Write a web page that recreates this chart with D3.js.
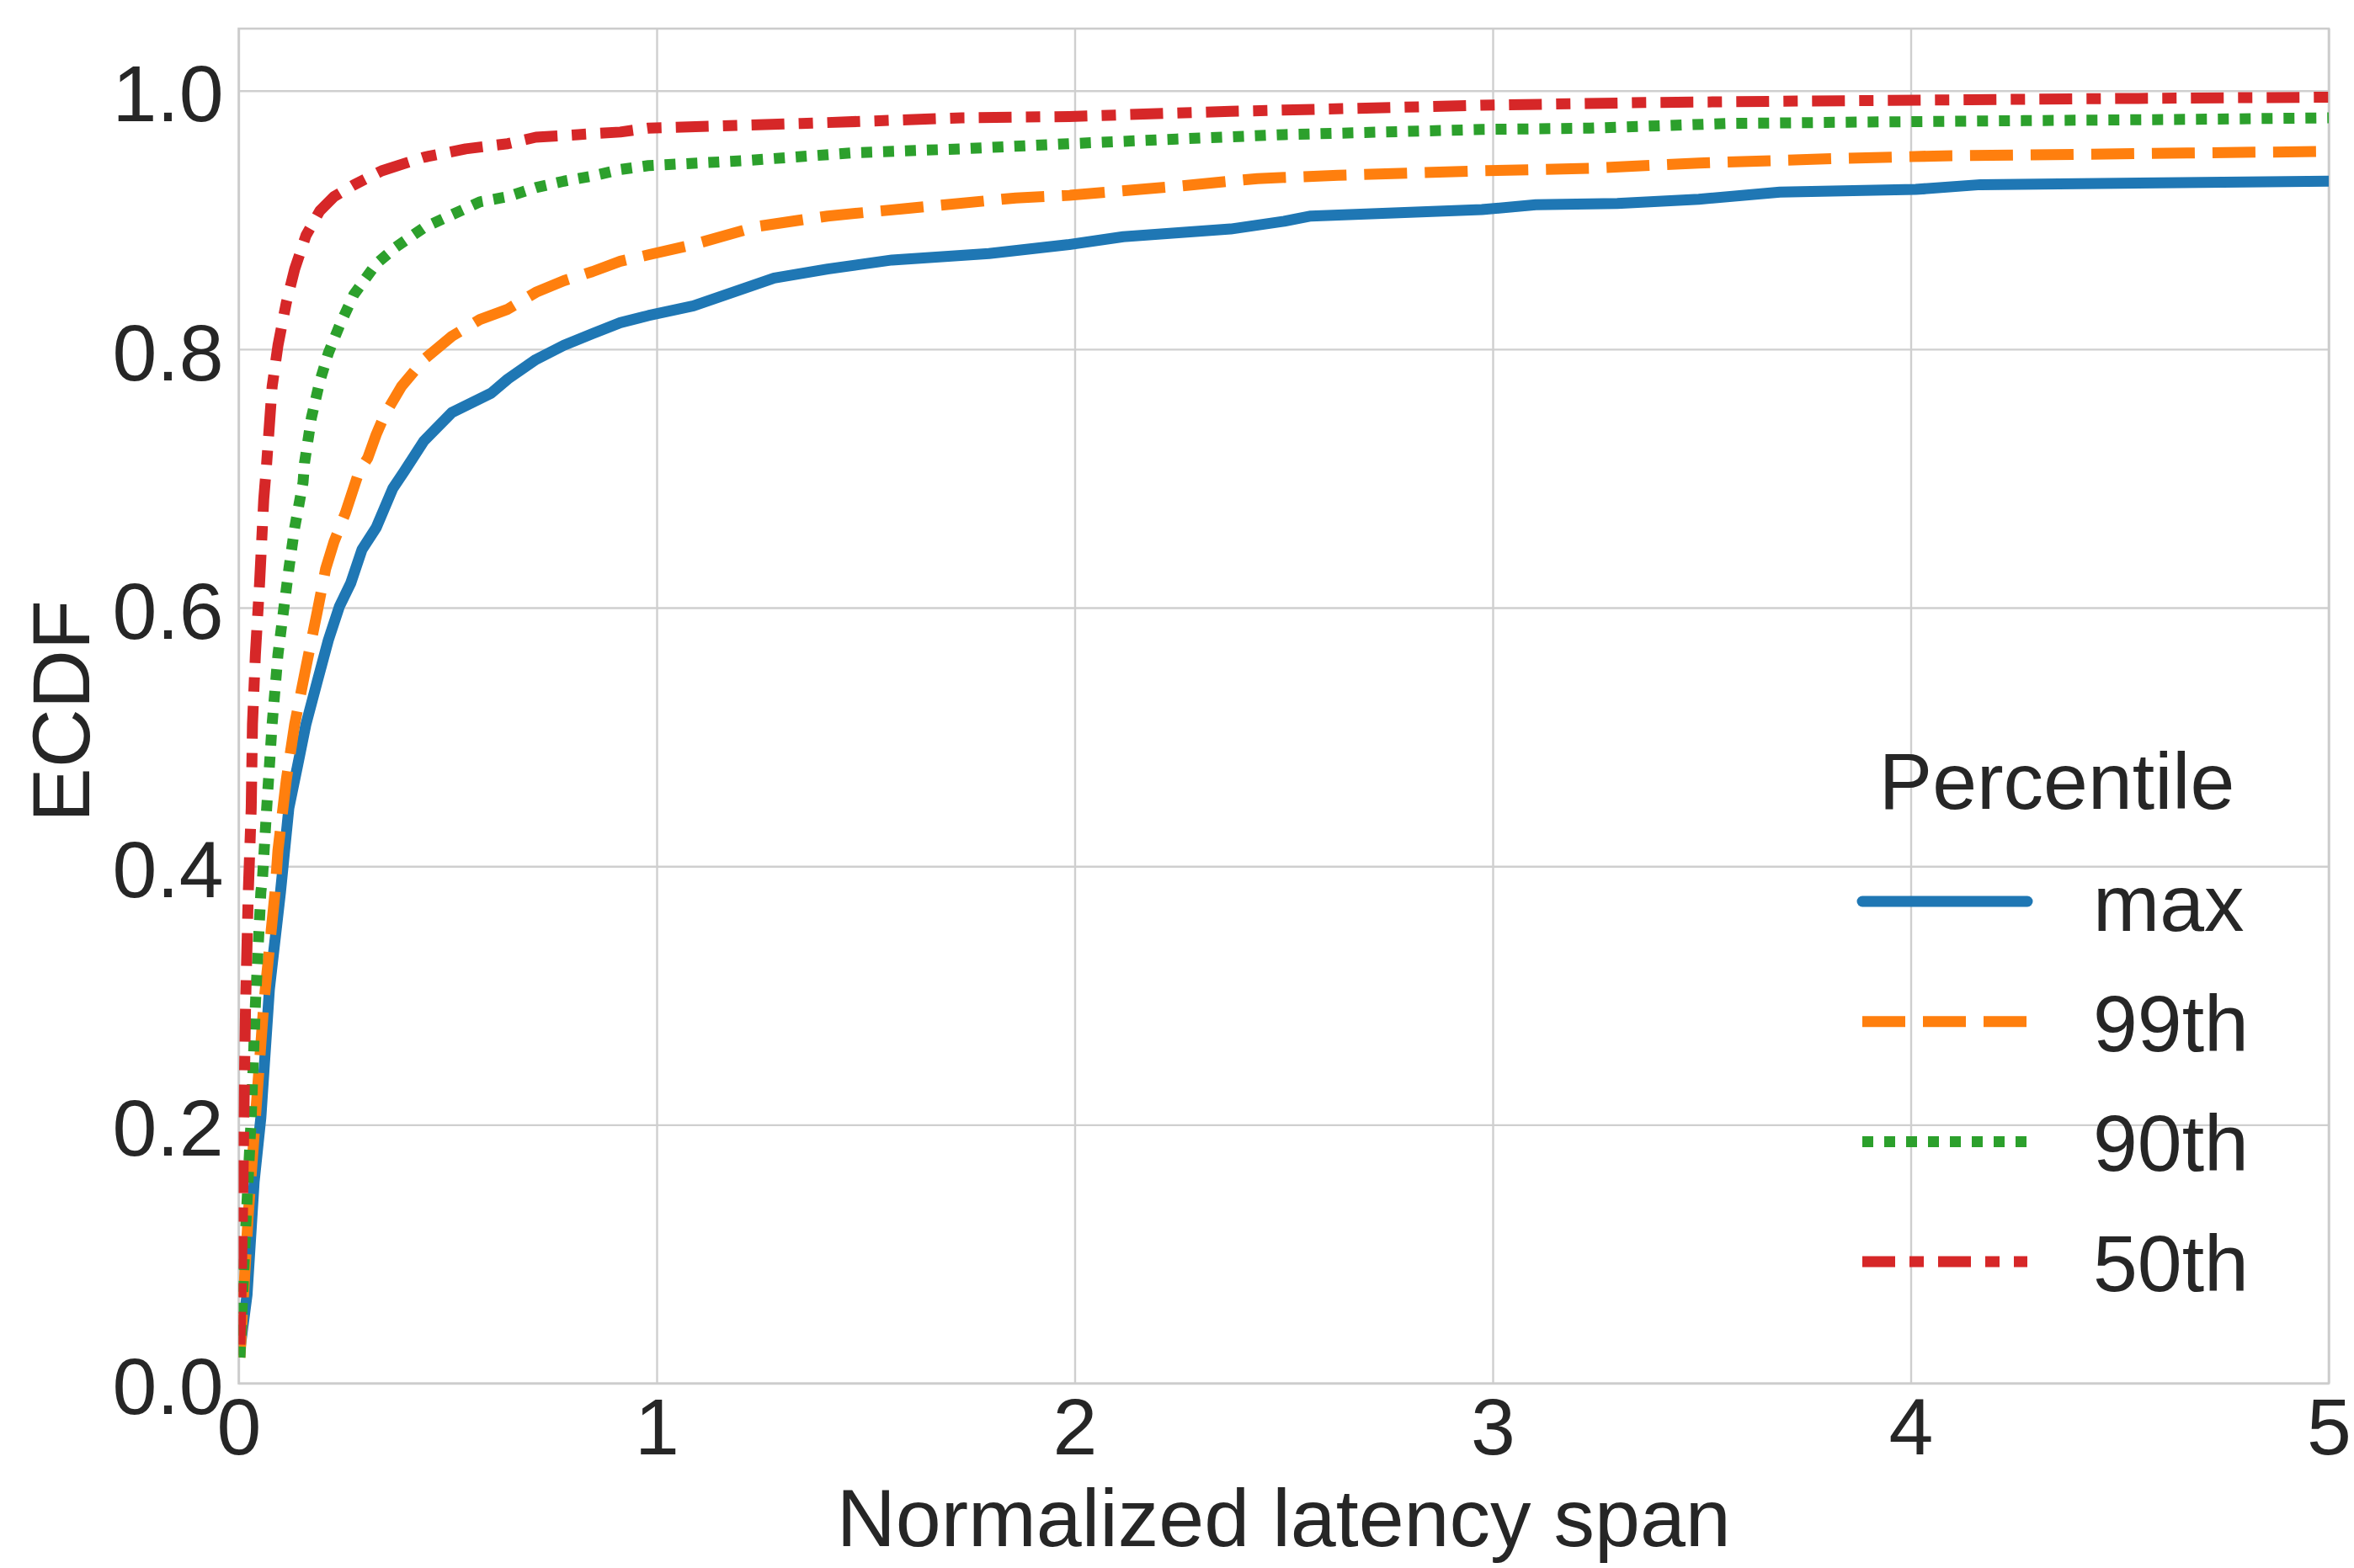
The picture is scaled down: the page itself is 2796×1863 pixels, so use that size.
<!DOCTYPE html>
<html>
<head>
    <meta charset="utf-8">
    <style>
        body { margin: 0; background: #fff; }
        text { font-family: "Liberation Sans", Arial, sans-serif; fill: #262626; }
    </style>
</head>
<body>
    <script src="https://d3js.org/d3.v7.min.js"></script>
    <script>
        // ECDF points, [latency span, ecdf]
        const maxPts = [[0.003,0.026],[0.02,0.0685],[0.037,0.156],[0.053,0.2055],[0.0735,0.305],[0.1,0.38],[0.12,0.445],[0.141,0.478],[0.161,0.51],[0.188,0.543],[0.2145,0.575],[0.241,0.601],[0.268,0.619],[0.295,0.645],[0.329,0.662],[0.369,0.6925],[0.396,0.7055],[0.443,0.729],[0.51,0.751],[0.604,0.766],[0.644,0.777],[0.711,0.792],[0.778,0.803],[0.846,0.812],[0.913,0.8205],[0.98,0.826],[1.088,0.8335],[1.281,0.855],[1.409,0.862],[1.563,0.869],[1.795,0.874],[1.987,0.881],[2.116,0.887],[2.373,0.893],[2.501,0.899],[2.565,0.903],[2.974,0.908],[3.103,0.9117],[3.298,0.9127],[3.493,0.916],[3.687,0.9215],[4.012,0.9236],[4.167,0.9273],[4.401,0.928],[5.0,0.930]];
        const p99Pts = [[0.003,0.02],[0.023,0.131],[0.04,0.2055],[0.06,0.293],[0.087,0.38],[0.094,0.4125],[0.114,0.467],[0.134,0.51],[0.161,0.554],[0.188,0.597],[0.208,0.63],[0.228,0.651],[0.255,0.673],[0.288,0.7055],[0.309,0.716],[0.329,0.734],[0.349,0.749],[0.389,0.771],[0.443,0.792],[0.51,0.81],[0.577,0.823],[0.644,0.831],[0.711,0.844],[0.778,0.853],[0.846,0.86],[0.913,0.868],[0.98,0.873],[1.088,0.881],[1.242,0.895],[1.409,0.903],[1.602,0.909],[1.859,0.917],[1.987,0.919],[2.244,0.926],[2.437,0.932],[2.63,0.9345],[2.974,0.938],[3.233,0.94],[3.493,0.944],[3.817,0.9475],[4.077,0.9496],[4.401,0.9507],[4.661,0.9518],[5.0,0.953]];
        const p90Pts = [[0.003,0.02],[0.0165,0.118],[0.03,0.2055],[0.04,0.293],[0.053,0.38],[0.057,0.391],[0.067,0.445],[0.08,0.51],[0.094,0.564],[0.107,0.597],[0.12,0.63],[0.134,0.662],[0.154,0.697],[0.1575,0.712],[0.174,0.747],[0.194,0.775],[0.2145,0.797],[0.241,0.818],[0.275,0.842],[0.329,0.866],[0.376,0.879],[0.443,0.894],[0.51,0.904],[0.577,0.914],[0.644,0.918],[0.711,0.925],[0.778,0.93],[0.846,0.934],[0.913,0.939],[0.98,0.942],[1.217,0.946],[1.474,0.952],[1.73,0.955],[1.987,0.959],[2.244,0.9626],[2.501,0.966],[2.974,0.97],[3.233,0.971],[3.557,0.9746],[3.881,0.9757],[4.27,0.9768],[4.661,0.9778],[5.0,0.979]];
        const p50Pts = [[0.003,0.03],[0.0064,0.081],[0.0097,0.143],[0.013,0.218],[0.0165,0.293],[0.023,0.38],[0.03,0.445],[0.033,0.51],[0.04,0.564],[0.05,0.619],[0.06,0.684],[0.067,0.712],[0.08,0.771],[0.094,0.803],[0.114,0.836],[0.134,0.862],[0.161,0.888],[0.194,0.907],[0.228,0.918],[0.275,0.927],[0.342,0.938],[0.443,0.9485],[0.543,0.955],[0.644,0.959],[0.711,0.964],[0.812,0.966],[0.913,0.968],[0.98,0.971],[1.345,0.9746],[1.73,0.979],[1.987,0.98],[2.373,0.984],[2.974,0.9887],[3.363,0.9908],[3.752,0.992],[4.141,0.993],[4.53,0.994],[5.0,0.995]];

        const seriesNames = ["max", "99th", "90th", "50th"];
        const xTicks = [0, 1, 2, 3, 4, 5];
        const yTicks = [0, 0.2, 0.4, 0.6, 0.8, 1.0];

        const colors = ["#1f77b4", "#ff7f0e", "#2ca02c", "#d62728"];
        const dashes = [null, "51,21", "13,13", "39,17,17,17"];

        const W = 2796, H = 1863;
        const margin = {top: 34, right: 30, bottom: 219.4, left: 283.5};
        const width = W - margin.left - margin.right;
        const height = H - margin.top - margin.bottom;
        const fs = 95;

        const svg = d3.select("body").append("svg")
            .attr("width", W).attr("height", H);
        const g = svg.append("g").attr("transform", `translate(${margin.left},${margin.top})`);

        const x = d3.scaleLinear().domain([0, 5]).range([0, width]);
        const y = d3.scaleLinear().domain([0, 1.048]).range([height, 0]);

        // grid
        g.append("g").attr("class", "grid")
            .attr("transform", `translate(0,${height})`)
            .call(d3.axisBottom(x).tickValues(xTicks).tickSize(-height).tickFormat(""))
        g.append("g").attr("class", "grid")
            .call(d3.axisLeft(y).tickValues(yTicks).tickSize(-width).tickFormat(""))
        g.selectAll(".grid .domain").remove();
        g.selectAll(".grid line").attr("stroke", "#cfcfcf").attr("stroke-width", 2.4);

        // frame
        g.append("rect")
            .attr("width", width).attr("height", height)
            .attr("fill", "none").attr("stroke", "#cccccc").attr("stroke-width", 2.6);

        // tick labels
        const xa = g.append("g")
            .attr("transform", `translate(0,${height})`)
            .call(d3.axisBottom(x).tickValues(xTicks).tickSize(0).tickPadding(17).tickFormat(d3.format("d")));
        const ya = g.append("g")
            .call(d3.axisLeft(y).tickValues(yTicks).tickSize(0).tickPadding(18).tickFormat(d3.format(".1f")));
        [xa, ya].forEach(a => {
            a.select(".domain").remove();
            a.selectAll("text").attr("font-size", fs).attr("font-family", null).attr("fill", "#262626");
        });
        ya.selectAll("text").attr("dy", "0.38em");

        // axis labels
        svg.append("text")
            .attr("x", margin.left + width / 2).attr("y", 1837)
            .attr("text-anchor", "middle").attr("font-size", 97)
            .text("Normalized latency span");
        svg.append("text")
            .attr("transform", `translate(106,845) rotate(-90)`)
            .attr("text-anchor", "middle").attr("font-size", 97)
            .text("ECDF");

        // lines
        const clip = svg.append("defs").append("clipPath").attr("id", "clip");
        clip.append("rect").attr("x", 0).attr("y", 0).attr("width", width).attr("height", height);

        const line = d3.line().x(d => x(d[0])).y(d => y(d[1]));
        const data = [maxPts, p99Pts, p90Pts, p50Pts];
        g.append("g").attr("clip-path", "url(#clip)")
            .selectAll("path").data(data).join("path")
            .attr("d", line)
            .attr("fill", "none")
            .attr("stroke", (d, i) => colors[i])
            .attr("stroke-width", 13)
            .attr("stroke-linejoin", "round")
            .attr("stroke-linecap", (d, i) => i == 0 ? "round" : "butt")
            .attr("stroke-dasharray", (d, i) => dashes[i]);

        // legend (no frame)
        const lg = g.append("g").attr("transform", `translate(${width - 554},${1071 - margin.top})`);
        lg.append("text")
            .attr("x", 231).attr("y", 961 - 1071)
            .attr("text-anchor", "middle").attr("font-size", fs)
            .text("Percentile");
        const item = lg.selectAll("g.item").data(seriesNames).join("g")
            .attr("class", "item")
            .attr("transform", (d, i) => `translate(0,${i * 142.7})`);
        item.append("line")
            .attr("x1", 0).attr("x2", 196)
            .attr("stroke", (d, i) => colors[i])
            .attr("stroke-width", 13)
            .attr("stroke-linecap", (d, i) => i == 0 ? "round" : "butt")
            .attr("stroke-dasharray", (d, i) => dashes[i]);
        item.append("text")
            .attr("x", 274).attr("y", 35)
            .attr("font-size", fs)
            .text(d => d);
    </script>
</body>
</html>
